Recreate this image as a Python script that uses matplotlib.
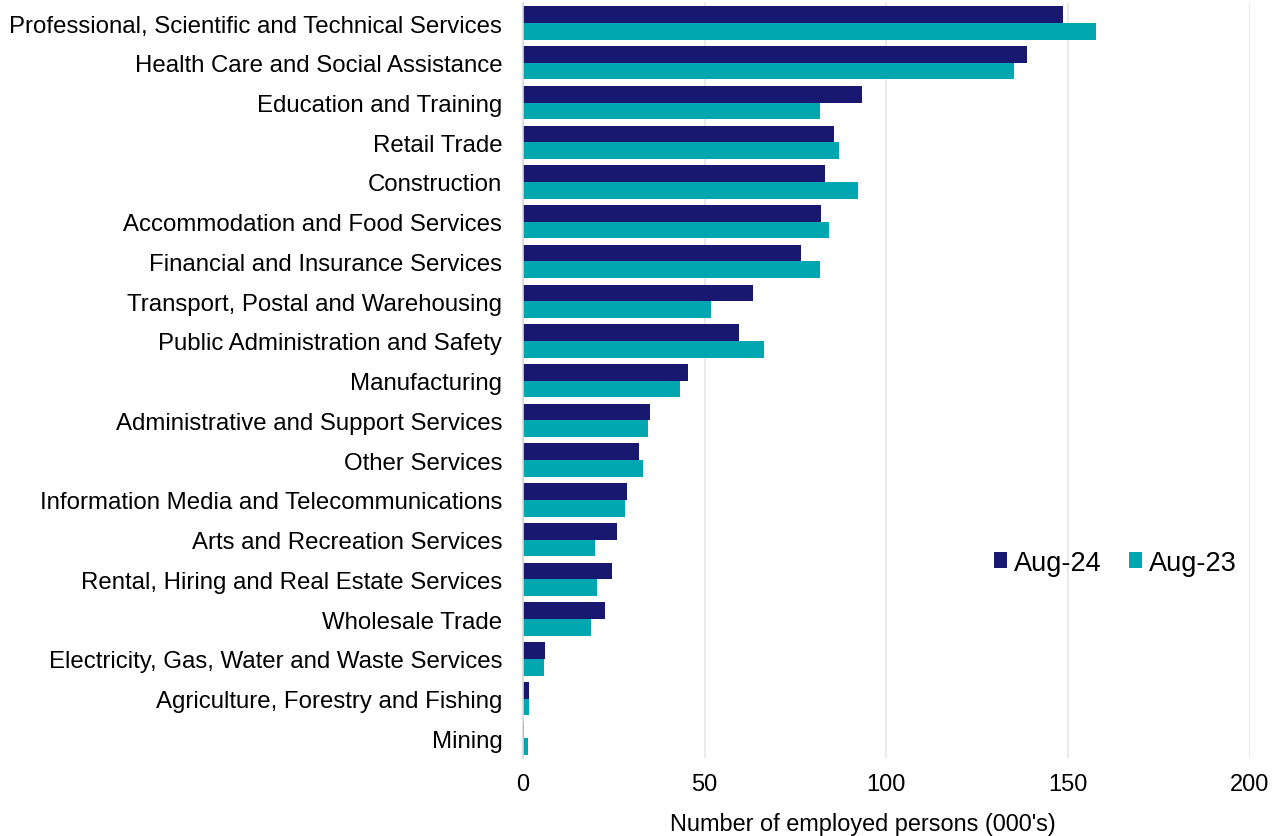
import matplotlib.pyplot as plt
import numpy as np

plt.rcParams['font.family'] = ['Liberation Sans', 'DejaVu Sans']

industries = [
    "Professional, Scientific and Technical Services",
    "Health Care and Social Assistance",
    "Education and Training",
    "Retail Trade",
    "Construction",
    "Accommodation and Food Services",
    "Financial and Insurance Services",
    "Transport, Postal and Warehousing",
    "Public Administration and Safety",
    "Manufacturing",
    "Administrative and Support Services",
    "Other Services",
    "Information Media and Telecommunications",
    "Arts and Recreation Services",
    "Rental, Hiring and Real Estate Services",
    "Wholesale Trade",
    "Electricity, Gas, Water and Waste Services",
    "Agriculture, Forestry and Fishing",
    "Mining",
]
aug24 = [148.5, 138.8, 93.2, 85.7, 83.1, 82.0, 76.5, 63.3, 59.5, 45.5,
         34.8, 31.8, 28.5, 25.8, 24.5, 22.5, 6.1, 1.6, 0.3]
aug23 = [157.7, 135.2, 81.8, 86.9, 92.2, 84.1, 81.6, 51.7, 66.2, 43.1,
         34.3, 32.9, 28.0, 19.8, 20.4, 18.7, 5.8, 1.6, 1.3]

navy = '#181870'
teal = '#00a7b0'

fig = plt.figure(figsize=(12.79, 8.37), dpi=100)
ax = fig.add_axes([0.409, 0.093, 0.568, 0.902])

y = np.arange(len(industries))
h = 0.42
ax.barh(y - h / 2, aug24, height=h, color=navy, label='Aug-24')
ax.barh(y + h / 2, aug23, height=h, color=teal, label='Aug-23')

ax.set_ylim(len(industries) - 0.5, -0.5)
ax.set_xlim(0, 200)
ax.set_yticks(y)
ax.set_yticklabels(industries, fontsize=17.3)
ax.set_xticks([0, 50, 100, 150, 200])
ax.tick_params(axis='x', labelsize=17, length=0, pad=11)
ax.tick_params(axis='y', length=0, pad=15)
ax.set_xlabel("Number of employed persons (000's)", fontsize=16.9)
ax.xaxis.set_label_coords(0.468, -0.071)

ax.grid(axis='x', color='#e6e6e6', linewidth=1.2)
ax.set_axisbelow(True)
for s in ['top', 'right', 'bottom']:
    ax.spines[s].set_visible(False)
ax.spines['left'].set_color('#d9d9d9')
ax.spines['left'].set_linewidth(1.2)

ax.legend(loc='center left', bbox_to_anchor=(0.614, 0.259), ncol=2, frameon=False,
          fontsize=19.5, handlelength=0.5, handleheight=0.5, handletextpad=0.25,
          columnspacing=1.0)

plt.savefig('out.png', dpi=100)
